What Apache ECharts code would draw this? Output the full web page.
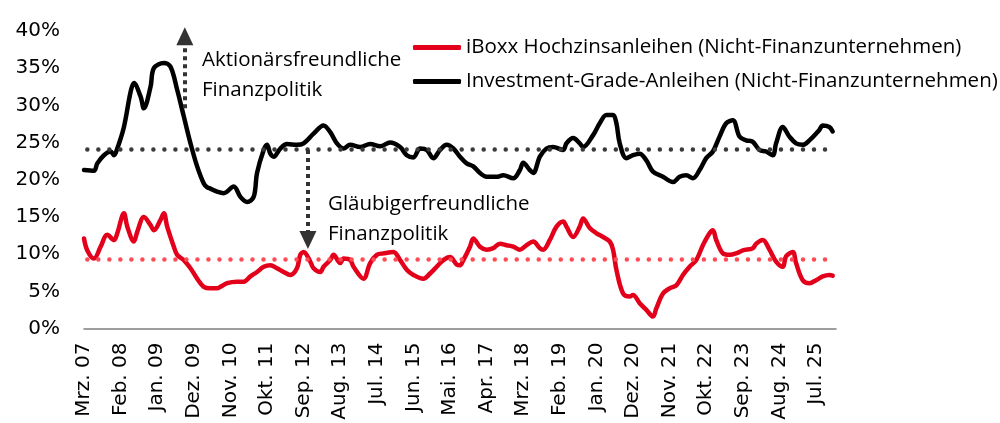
<!DOCTYPE html>
<html>
<head>
<meta charset="utf-8">
<script src="https://cdn.jsdelivr.net/npm/echarts@6/dist/echarts.min.js"></script>
<style>
  html, body { margin: 0; padding: 0; background: #fff; }
  #chart { width: 1000px; height: 423px; }
</style>
</head>
<body>
<div id="chart"></div>
<script>
// x-axis labels, one every 11 months starting at Mrz. 07 (month index 0)
var tickLabels = ['Mrz. 07', 'Feb. 08', 'Jan. 09', 'Dez. 09', 'Nov. 10', 'Okt. 11', 'Sep. 12',
  'Aug. 13', 'Jul. 14', 'Jun. 15', 'Mai. 16', 'Apr. 17', 'Mrz. 18', 'Feb. 19', 'Jan. 20',
  'Dez. 20', 'Nov. 21', 'Okt. 22', 'Sep. 23', 'Aug. 24', 'Jul. 25'];
var seriesNames = ['iBoxx Hochzinsanleihen (Nicht-Finanzunternehmen)',
  'Investment-Grade-Anleihen (Nicht-Finanzunternehmen)'];

// [month index since Mrz. 07, share in %]
var hyData = [[0,12.1],[1,10.5],[3,9.4],[5,11.0],[7,12.6],[9,11.9],[10,12.8],[12,15.5],[13,13.7],
  [15,11.7],[16,13.0],[18,15.0],[20,13.9],[21,13.2],[23,14.6],[24,15.5],[25,13.7],[27,11.0],[28,9.9],
  [30,9.2],[32,8.1],[34,6.7],[36,5.6],[38,5.4],[40,5.4],[41,5.6],[43,6.1],[46,6.3],[48,6.3],[50,7.0],
  [52,7.6],[54,8.3],[56,8.5],[58,8.1],[60,7.6],[62,7.2],[64,8.1],[65,9.9],[66,10.3],[68,9.0],[69,8.1],
  [71,7.6],[72,8.3],[74,9.2],[75,9.9],[77,8.8],[78,9.4],[80,9.2],[81,8.3],[84,6.7],[86,8.8],[88,9.9],
  [90,10.1],[93,10.3],[95,9.2],[97,7.9],[99,7.2],[102,6.7],[104,7.4],[106,8.3],[108,9.2],[110,9.6],
  [112,8.6],[113,8.5],[114,9.2],[116,11.0],[117,12.1],[119,11.0],[121,10.6],[123,10.8],[125,11.4],
  [127,11.2],[129,11.0],[131,10.6],[133,11.2],[135,11.7],[137,10.8],[138,10.6],[140,11.9],[142,13.7],
  [144,14.4],[145,13.7],[147,12.3],[149,13.7],[150,14.8],[152,13.5],[154,12.8],[156,12.3],[158,11.7],
  [159,10.6],[160,7.9],[162,4.7],[164,4.3],[165,4.5],[167,3.4],[169,2.5],[171,1.6],[172,2.7],[174,4.7],
  [176,5.4],[178,5.8],[180,7.2],[182,8.3],[184,9.2],[186,11.2],[188,12.8],[189,13.2],[190,11.9],
  [192,10.1],[194,9.9],[196,10.1],[198,10.5],[201,10.8],[202,11.4],[204,11.9],[206,10.6],[208,9.0],
  [210,8.3],[211,9.7],[213,10.3],[214,8.8],[216,6.5],[218,6.1],[220,6.5],[222,7.0],[224,7.2],[225,7.1]];

var igData = [[0,21.3],[3,21.2],[4,22.2],[6,23.3],[8,23.8],[9,23.3],[10,24.2],[12,27.1],[14,31.8],
  [15,33.0],[17,31.2],[18,29.6],[20,32.5],[21,35.0],[24,35.7],[26,35.2],[28,32.1],[30,28.5],[32,24.9],
  [34,21.8],[36,19.5],[37,19.0],[38,18.8],[40,18.4],[42,18.2],[45,19.1],[47,17.7],[49,17.0],[51,17.7],
  [52,20.9],[54,24.0],[55,24.7],[56,23.5],[57,23.1],[59,24.2],[61,24.8],[64,24.7],[66,24.9],[69,26.2],
  [72,27.3],[74,26.4],[76,24.9],[78,24.2],[80,24.7],[83,24.4],[86,24.8],[89,24.5],[92,25.0],[95,24.4],
  [97,23.3],[99,23.0],[101,24.2],[103,24.0],[105,22.9],[107,24.0],[109,24.7],[111,24.2],[113,23.1],
  [115,22.2],[117,21.8],[119,20.9],[121,20.4],[124,20.4],[126,20.6],[129,20.2],[131,21.3],[132,22.3],
  [134,21.3],[135,20.9],[137,23.1],[139,24.2],[141,24.4],[144,24.0],[145,24.9],[147,25.6],[149,24.9],
  [150,24.4],[153,26.0],[155,27.6],[157,28.7],[159,28.7],[160,27.6],[161,24.9],[163,22.9],[165,23.3],
  [167,23.5],[169,22.6],[171,21.1],[174,20.4],[177,19.7],[179,20.4],[181,20.6],[183,20.2],[185,21.3],
  [187,22.9],[189,23.8],[191,25.8],[193,27.6],[195,28.0],[197,25.8],[199,25.3],[201,25.1],[203,24.0],
  [205,23.8],[207,23.3],[208,24.9],[210,27.1],[212,25.8],[214,24.9],[216,24.7],[218,25.3],[221,26.7],
  [222,27.3],[224,27.1],[225,26.5]];

// long-run averages (dotted lines)
var hyAvg = 9.35;
var igAvg = 24.1;

var redColor = '#e3001b';
var textFont = 'Open Sans';
var textSize = 20.5;

var myChart = echarts.init(document.getElementById('chart'));

var option = {
  backgroundColor: '#fff',
  animation: false,
  grid: { left: 84, right: 164, top: 31, bottom: 94.5 },
  legend: {
    orient: 'vertical',
    left: 413,
    top: 37,
    padding: 0,
    itemWidth: 48,
    itemHeight: 5,
    itemGap: 13,
    icon: 'roundRect',
    textStyle: { fontSize: textSize, fontFamily: textFont, color: '#000' },
    data: [seriesNames[0], seriesNames[1]]
  },
  xAxis: {
    type: 'value',
    min: 0,
    max: 226,
    interval: 11,
    splitLine: { show: false },
    axisTick: { show: false },
    axisLine: { show: true, onZero: false, lineStyle: { color: '#7f7f7f', width: 1.5 } },
    axisLabel: {
      rotate: 90,
      margin: 14,
      fontSize: 20,
      fontFamily: 'DejaVu Sans',
      color: '#000',
      showMaxLabel: false,
      formatter: function (v) {
        if (v % 11 !== 0) return '';
        return tickLabels[v / 11] || '';
      }
    }
  },
  yAxis: {
    type: 'value',
    min: 0,
    max: 40,
    interval: 5,
    splitLine: { show: false },
    axisLine: { show: false },
    axisTick: { show: false },
    axisLabel: {
      margin: 24,
      fontSize: 20,
      fontFamily: 'DejaVu Sans',
      color: '#000',
      formatter: '{value}%'
    }
  },
  graphic: [
    {
      type: 'text', left: 202, top: 45, silent: true,
      style: { text: 'Aktionärsfreundliche\nFinanzpolitik', font: textSize + 'px ' + textFont, fill: '#000', lineHeight: 30 }
    },
    {
      type: 'text', left: 328, top: 189, silent: true,
      style: { text: 'Gläubigerfreundliche\nFinanzpolitik', font: textSize + 'px ' + textFont, fill: '#000', lineHeight: 30 }
    }
  ],
  series: [
    {
      name: seriesNames[0],
      type: 'line',
      data: hyData,
      smooth: 0.35,
      showSymbol: false,
      z: 3,
      lineStyle: { color: redColor, width: 4.5, cap: 'round', join: 'round' },
      itemStyle: { color: redColor },
      markLine: {
        silent: true,
        symbol: 'none',
        label: { show: false },
        lineStyle: { color: '#ff4b55', width: 4.5, type: [0.01, 11], cap: 'round' },
        data: [[{ coord: [1, hyAvg] }, { coord: [224, hyAvg] }]]
      }
    },
    {
      name: seriesNames[1],
      type: 'line',
      data: igData,
      smooth: 0.35,
      showSymbol: false,
      z: 3,
      lineStyle: { color: '#000', width: 4.5, cap: 'round', join: 'round' },
      itemStyle: { color: '#000' },
      markLine: {
        silent: true,
        symbol: 'none',
        label: { show: false },
        lineStyle: { color: '#3a3a3a', width: 4.5, type: [0.01, 11], cap: 'round' },
        data: [[{ coord: [1, igAvg] }, { coord: [224, igAvg] }]]
      }
    },
    {
      // annotation arrows
      type: 'line',
      data: [],
      silent: true,
      markLine: {
        silent: true,
        label: { show: false },
        symbol: ['none', 'triangle'],
        symbolSize: [17, 18],
        symbolOffset: [0, 0],
        lineStyle: { color: '#333', width: 4, type: [4, 4] },
        data: [
          [{ coord: [30.3, 29.6] }, { coord: [30.3, 39.3] }],
          [{ coord: [67.3, 24.0] }, { coord: [67.3, 11.9] }]
        ]
      }
    }
  ]
};

MyEchartsSet();
function MyEchartsSet() {
  myChart.setOption(option);
}
</script>
</body>
</html>
